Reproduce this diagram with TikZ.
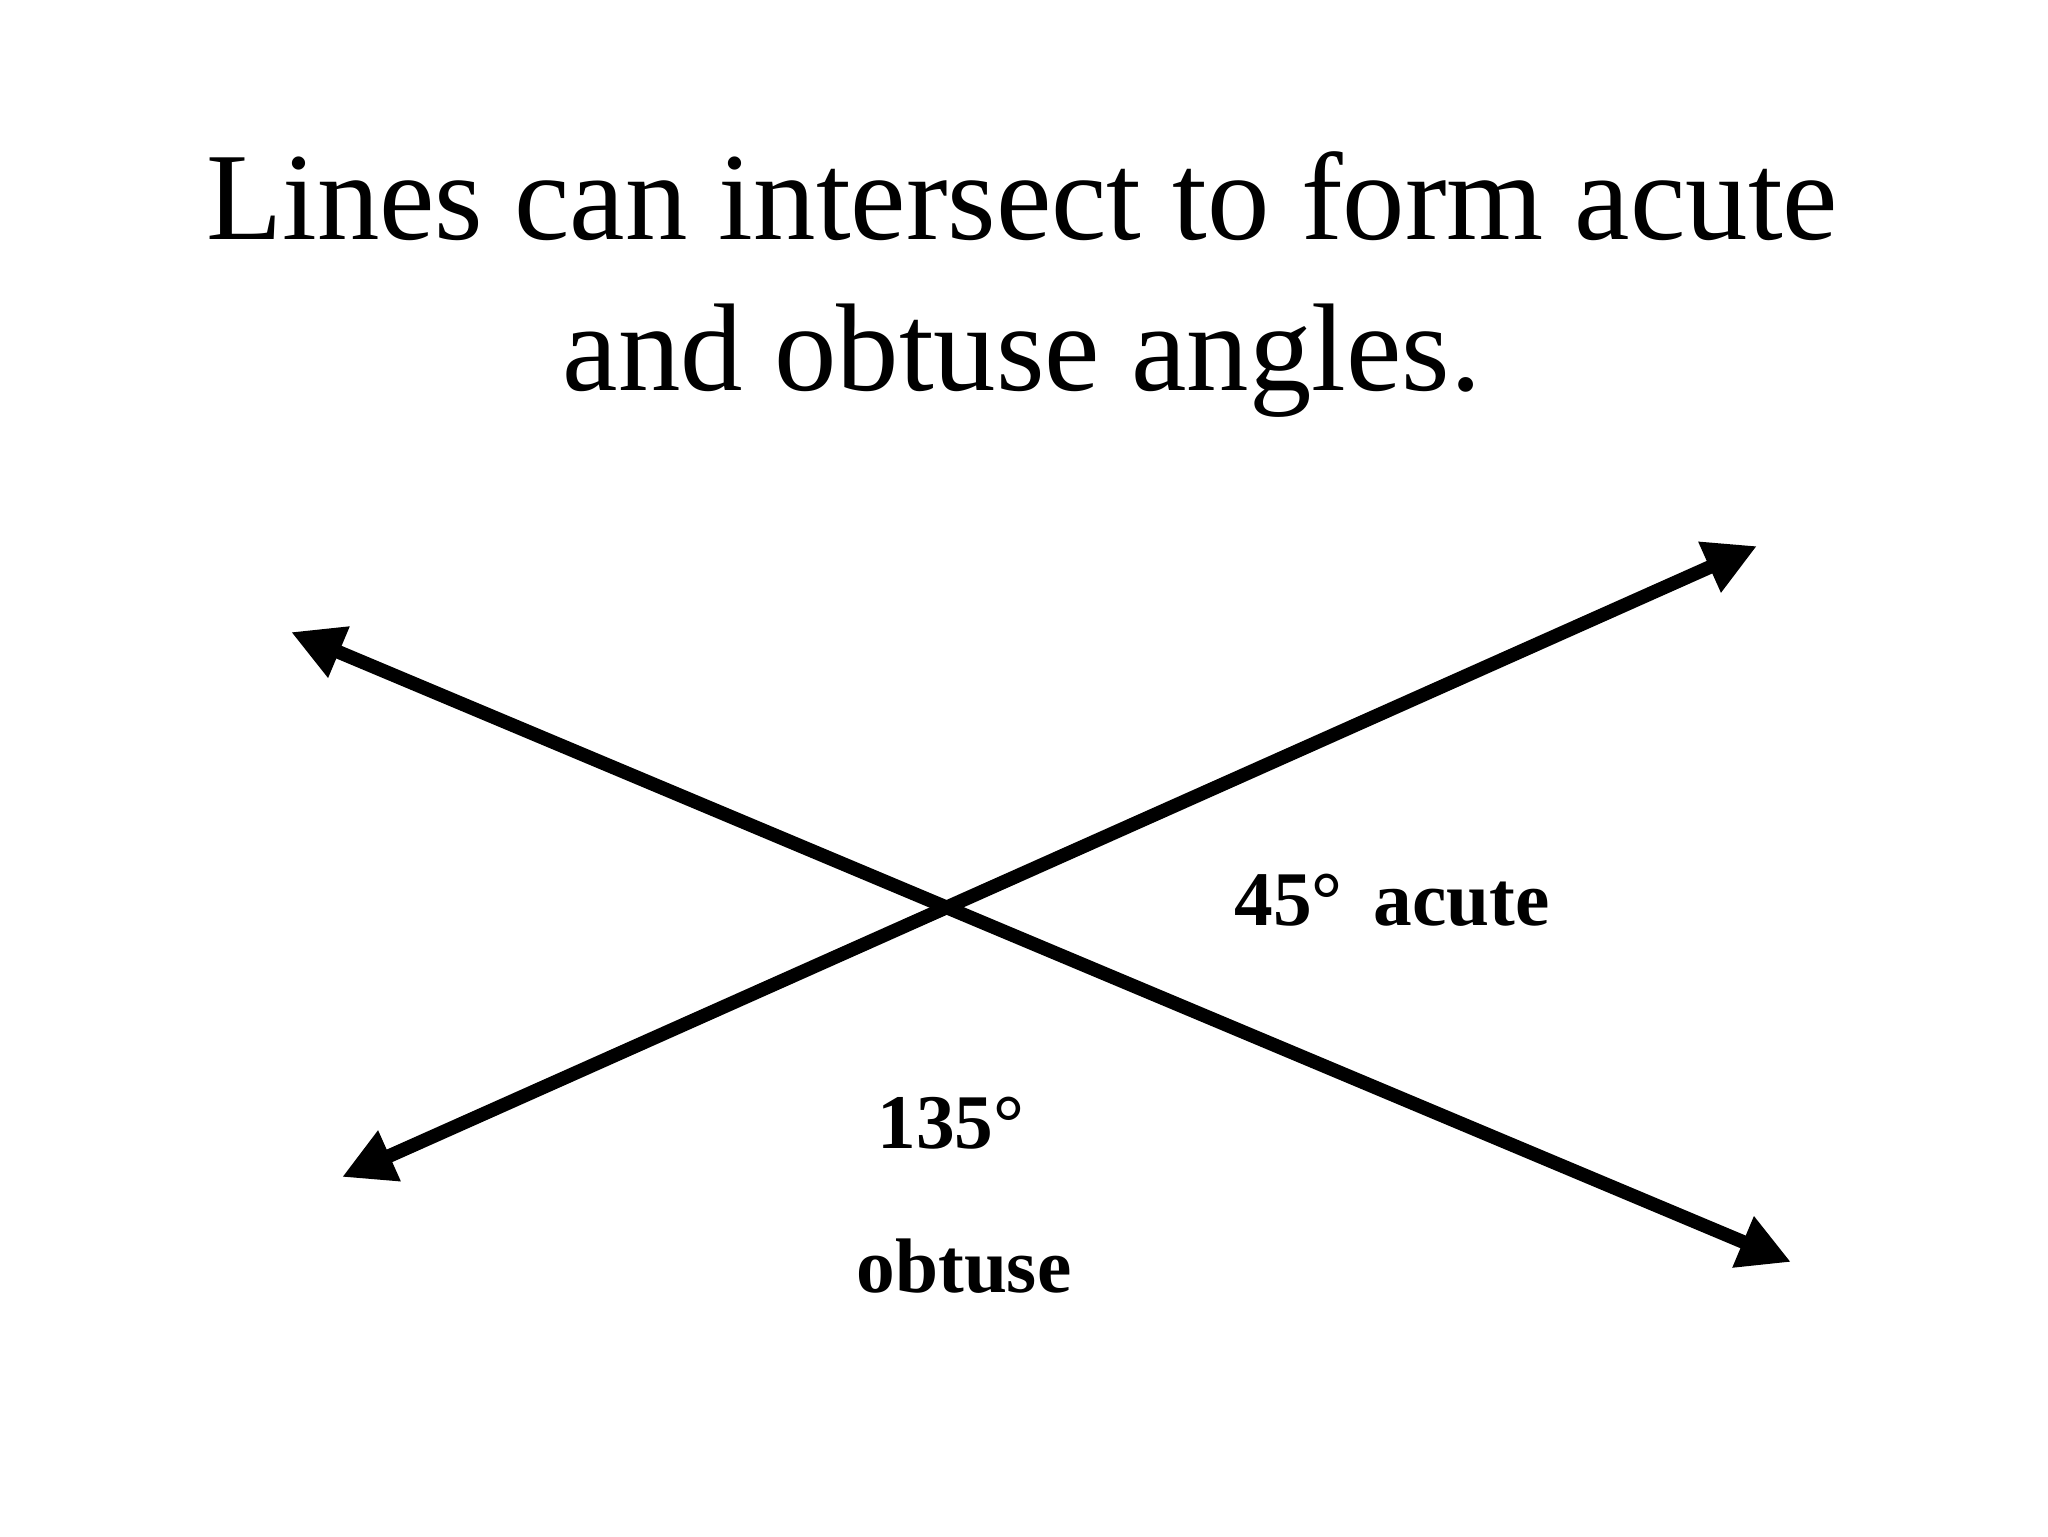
\documentclass[tikz,border=0pt]{standalone}
\usepackage{fontspec}
\setmainfont{Liberation Serif}
\usetikzlibrary{arrows.meta}

\begin{document}
\begin{tikzpicture}[x=0.1mm,y=-0.1mm,
  gerade/.style={line width=3.9pt,{Triangle[length=5.2mm,width=5.2mm]}-{Triangle[length=5.2mm,width=5.2mm]}},
  titel/.style={anchor=base,inner sep=0pt,font=\fontsize{35.5}{43}\selectfont},
  winkel/.style={anchor=base,inner sep=0pt,font=\fontsize{22}{26}\selectfont\bfseries}]
%Rahmen wie im Bild: 2048 x 1536
\useasboundingbox (0,0) rectangle (2048,1536);
\node[titel] (titel1) at (1022,239) {Lines can intersect to form acute};
\node[titel] (titel2) at (1022,390) {and obtuse angles.};
%Endpunkte der beiden Geraden
\coordinate (A1) at (291,632);
\coordinate (A2) at (1791,1262);
\coordinate (B1) at (342,1177);
\coordinate (B2) at (1757,546);
\draw[gerade] (A1) -- (A2);
\draw[gerade] (B1) -- (B2);
\node[winkel] (spitz) at (1392,925) {45°\hspace{0.4em}acute};
\node[winkel] (stumpf1) at (951,1148) {135°};
\node[winkel] (stumpf2) at (964,1292) {obtuse};
\end{tikzpicture}
\end{document}
